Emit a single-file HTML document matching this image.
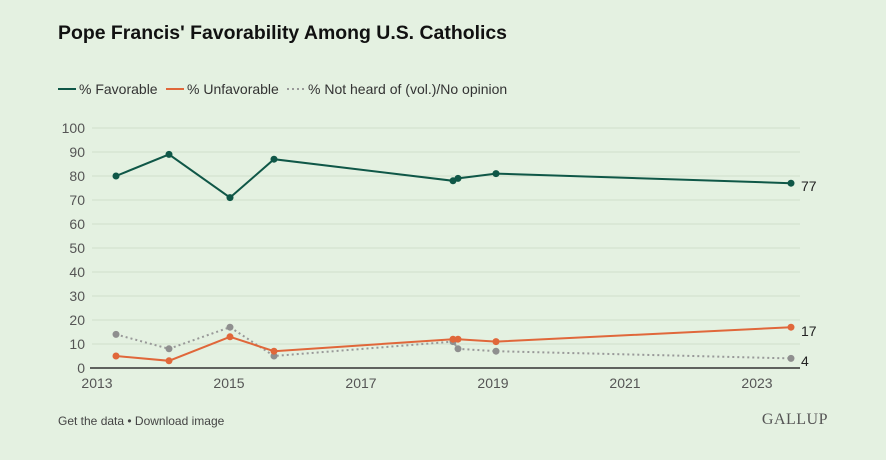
<!DOCTYPE html>
<html><head><style>
body{margin:0;width:886px;height:455px;background:#e4f1e1;font-family:"Liberation Sans",sans-serif;overflow:hidden}
</style></head><body>
<svg width="886" height="455" xmlns="http://www.w3.org/2000/svg" font-family="Liberation Sans, sans-serif">
<rect width="886" height="455" fill="#e4f1e1"/>
<text x="58" y="39" font-size="19.5" font-weight="bold" fill="#111" textLength="449" lengthAdjust="spacingAndGlyphs">Pope Francis' Favorability Among U.S. Catholics</text>
<line x1="58" y1="89" x2="76" y2="89" stroke="#0f5747" stroke-width="2"/>
<text x="79" y="94" font-size="14" fill="#333">% Favorable</text>
<line x1="166" y1="89" x2="184" y2="89" stroke="#e0673a" stroke-width="2"/>
<text x="187" y="94" font-size="14" fill="#333">% Unfavorable</text>
<line x1="287" y1="89" x2="305" y2="89" stroke="#999" stroke-width="2" stroke-dasharray="2,3"/>
<text x="308" y="94" font-size="14" fill="#333">% Not heard of (vol.)/No opinion</text>
<g stroke="#cfdfcc" stroke-width="1">
<line x1="92" y1="128" x2="800" y2="128"/><line x1="92" y1="152" x2="800" y2="152"/><line x1="92" y1="176" x2="800" y2="176"/><line x1="92" y1="200" x2="800" y2="200"/><line x1="92" y1="224" x2="800" y2="224"/><line x1="92" y1="248" x2="800" y2="248"/><line x1="92" y1="272" x2="800" y2="272"/><line x1="92" y1="296" x2="800" y2="296"/><line x1="92" y1="320" x2="800" y2="320"/><line x1="92" y1="344" x2="800" y2="344"/>
</g>
<line x1="90" y1="368" x2="800" y2="368" stroke="#333" stroke-width="1.5"/>
<g font-size="14" fill="#555" text-anchor="end">
<text x="85" y="133">100</text><text x="85" y="157">90</text><text x="85" y="181">80</text><text x="85" y="205">70</text><text x="85" y="229">60</text><text x="85" y="253">50</text><text x="85" y="277">40</text><text x="85" y="301">30</text><text x="85" y="325">20</text><text x="85" y="349">10</text><text x="85" y="373">0</text>
</g>
<g font-size="14" fill="#555" text-anchor="middle">
<text x="97" y="388">2013</text><text x="229" y="388">2015</text><text x="361" y="388">2017</text><text x="493" y="388">2019</text><text x="625" y="388">2021</text><text x="757" y="388">2023</text>
</g>
<polyline fill="none" stroke="#999" stroke-width="2" stroke-dasharray="2,3" points="116,334.4 169,348.8 230,327.2 274,356 453,341.6 458,348.8 496,351.2 791,358.4"/>
<g fill="#8f8f8f"><circle cx="116" cy="334.4" r="3.5"/><circle cx="169" cy="348.8" r="3.5"/><circle cx="230" cy="327.2" r="3.5"/><circle cx="274" cy="356" r="3.5"/><circle cx="453" cy="341.6" r="3.5"/><circle cx="458" cy="348.8" r="3.5"/><circle cx="496" cy="351.2" r="3.5"/><circle cx="791" cy="358.4" r="3.5"/></g>
<polyline fill="none" stroke="#e0673a" stroke-width="2" points="116,356 169,360.8 230,336.8 274,351.2 453,339.2 458,339.2 496,341.6 791,327.2"/>
<g fill="#e0673a"><circle cx="116" cy="356" r="3.5"/><circle cx="169" cy="360.8" r="3.5"/><circle cx="230" cy="336.8" r="3.5"/><circle cx="274" cy="351.2" r="3.5"/><circle cx="453" cy="339.2" r="3.5"/><circle cx="458" cy="339.2" r="3.5"/><circle cx="496" cy="341.6" r="3.5"/><circle cx="791" cy="327.2" r="3.5"/></g>
<polyline fill="none" stroke="#0f5747" stroke-width="2" points="116,176 169,154.4 230,197.6 274,159.2 453,180.8 458,178.4 496,173.6 791,183.2"/>
<g fill="#0f5747"><circle cx="116" cy="176" r="3.5"/><circle cx="169" cy="154.4" r="3.5"/><circle cx="230" cy="197.6" r="3.5"/><circle cx="274" cy="159.2" r="3.5"/><circle cx="453" cy="180.8" r="3.5"/><circle cx="458" cy="178.4" r="3.5"/><circle cx="496" cy="173.6" r="3.5"/><circle cx="791" cy="183.2" r="3.5"/></g>
<g font-size="14" fill="#222"><text x="801" y="191">77</text><text x="801" y="336">17</text><text x="801" y="366">4</text></g>
<text x="58" y="425" font-size="12" fill="#444">Get the data • Download image</text>
<text x="828" y="424" font-size="16" fill="#555" text-anchor="end" font-family="Liberation Serif, serif" letter-spacing="0.5">GALLUP</text>
</svg>
</body></html>
